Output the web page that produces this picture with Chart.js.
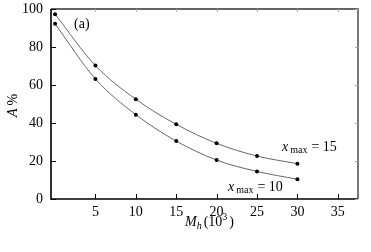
<!DOCTYPE html>
<html>
<head>
<meta charset="utf-8">
<script src="https://cdn.jsdelivr.net/npm/chart.js@4"></script>
<style>
  html, body { margin: 0; padding: 0; background: #fff; }
  #wrap { width: 371px; height: 252px; }
</style>
</head>
<body>
<div id="wrap"><canvas id="c" width="371" height="252"></canvas></div>
<script>
// Dades llegides del gràfic
const masses = [0, 5, 10, 15, 20, 25, 30];
const xmax15 = [97.3, 70.2, 52.5, 39.3, 29.3, 22.6, 18.6];
const xmax10 = [92.2, 63.2, 44.4, 30.5, 20.5, 14.5, 10.4];
const xTicks = [5, 10, 15, 20, 25, 30, 35];
const yTicks = [0, 20, 40, 60, 80, 100];

const FONT = '"Liberation Serif", "DejaVu Serif", serif';

const toPoints = vals => masses.map((m, i) => ({ x: m, y: vals[i] }));

const serie = (label, vals) => ({
    label,
    data: toPoints(vals),
    borderColor: '#666',
    borderWidth: 1,
    pointRadius: 2,
    pointBackgroundColor: '#000',
    pointBorderColor: '#000',
    pointBorderWidth: 0,
    cubicInterpolationMode: 'monotone',
    fill: false
});

// Marc, marques interiors i textos
const framePlugin = {
    id: 'frame',
    afterDraw(chart) {
        const { ctx, chartArea: a, scales } = chart;
        const xs = scales.x, ys = scales.y;
        ctx.save();

        // marc
        ctx.strokeStyle = '#000';
        ctx.lineWidth = 1.6;
        ctx.beginPath();
        ctx.moveTo(a.left, a.top);
        ctx.lineTo(a.left, a.bottom);
        ctx.lineTo(a.right, a.bottom);
        ctx.stroke();
        ctx.strokeStyle = '#333';
        ctx.lineWidth = 1.3;
        ctx.beginPath();
        ctx.moveTo(a.left, a.top);
        ctx.lineTo(a.right, a.top);
        ctx.lineTo(a.right, a.bottom);
        ctx.stroke();

        // marques
        ctx.strokeStyle = '#000';
        ctx.lineWidth = 1;
        xTicks.forEach(v => {
            const px = Math.round(xs.getPixelForValue(v)) + 0.5;
            ctx.beginPath();
            ctx.moveTo(px, a.bottom);
            ctx.lineTo(px, a.bottom - 5);
            ctx.stroke();
        });
        yTicks.forEach(v => {
            const py = Math.round(ys.getPixelForValue(v)) + 0.5;
            ctx.beginPath();
            ctx.moveTo(a.left, py);
            ctx.lineTo(a.left + 5, py);
            ctx.stroke();
        });
        ctx.strokeStyle = '#aaa';
        xTicks.forEach(v => {
            const px = Math.round(xs.getPixelForValue(v)) + 0.5;
            ctx.beginPath();
            ctx.moveTo(px, a.top);
            ctx.lineTo(px, a.top + 3);
            ctx.stroke();
        });
        yTicks.forEach(v => {
            const py = Math.round(ys.getPixelForValue(v)) + 0.5;
            ctx.beginPath();
            ctx.moveTo(a.right, py);
            ctx.lineTo(a.right - 3, py);
            ctx.stroke();
        });

        ctx.fillStyle = '#000';
        ctx.textBaseline = 'alphabetic';
        ctx.textAlign = 'left';

        // (a)
        ctx.font = '14px ' + FONT;
        ctx.fillText('(a)', 74, 28);

        // etiquetes de les corbes
        const etiqueta = (x, y, valor) => {
            ctx.font = 'italic 14px ' + FONT;
            ctx.fillText('x', x, y);
            let w = ctx.measureText('x').width + 2;
            ctx.font = '10px ' + FONT;
            ctx.fillText('max', x + w, y + 2);
            w += ctx.measureText('max').width + 4;
            ctx.font = '14px ' + FONT;
            ctx.fillText('= ' + valor, x + w, y);
        };
        etiqueta(282, 151, 15);
        etiqueta(228, 191, 10);

        // títol eix x
        let x = 185, y = 226;
        ctx.font = 'italic 14px ' + FONT;
        ctx.fillText('M', x, y);
        x += ctx.measureText('M').width;
        ctx.font = 'italic 10px ' + FONT;
        ctx.fillText('h', x, y + 3);
        x += ctx.measureText('h').width + 2;
        ctx.font = '14px ' + FONT;
        ctx.fillText('(10', x, y);
        x += ctx.measureText('(10').width;
        ctx.font = '10px ' + FONT;
        ctx.fillText('3', x, y - 6);
        x += ctx.measureText('3').width + 2;
        ctx.font = '14px ' + FONT;
        ctx.fillText(')', x, y);

        // títol eix y
        ctx.translate(17, 117);
        ctx.rotate(-Math.PI / 2);
        ctx.font = 'italic 14px ' + FONT;
        ctx.fillText('A', 0, 0);
        const wa = ctx.measureText('A').width + 3;
        ctx.font = '14px ' + FONT;
        ctx.fillText('%', wa, 0);

        ctx.restore();
    }
};

new Chart(document.getElementById('c'), {
    type: 'line',
    data: {
        datasets: [serie('x max = 15', xmax15), serie('x max = 10', xmax10)]
    },
    options: {
        responsive: false,
        animation: false,
        devicePixelRatio: 1,
        layout: { padding: { left: 0, top: 9, right: 13, bottom: 0 } },
        plugins: { legend: { display: false }, tooltip: { enabled: false } },
        scales: {
            x: {
                type: 'linear',
                min: -0.5,
                max: 37.5,
                afterBuildTicks: s => { s.ticks = xTicks.map(v => ({ value: v })); },
                afterFit: s => { s.height = 53; s.paddingLeft = 0; s.paddingRight = 0; },
                grid: { display: false, drawTicks: false },
                border: { display: false },
                ticks: { color: '#000', padding: 5, font: { family: FONT, size: 14 } }
            },
            y: {
                min: 0,
                max: 100,
                afterBuildTicks: s => { s.ticks = yTicks.map(v => ({ value: v })); },
                afterFit: s => { s.width = 51; s.paddingTop = 0; s.paddingBottom = 0; },
                grid: { display: false, drawTicks: false },
                border: { display: false },
                ticks: { color: '#000', padding: 8, font: { family: FONT, size: 14 } }
            }
        }
    },
    plugins: [framePlugin]
});
</script>
</body>
</html>
